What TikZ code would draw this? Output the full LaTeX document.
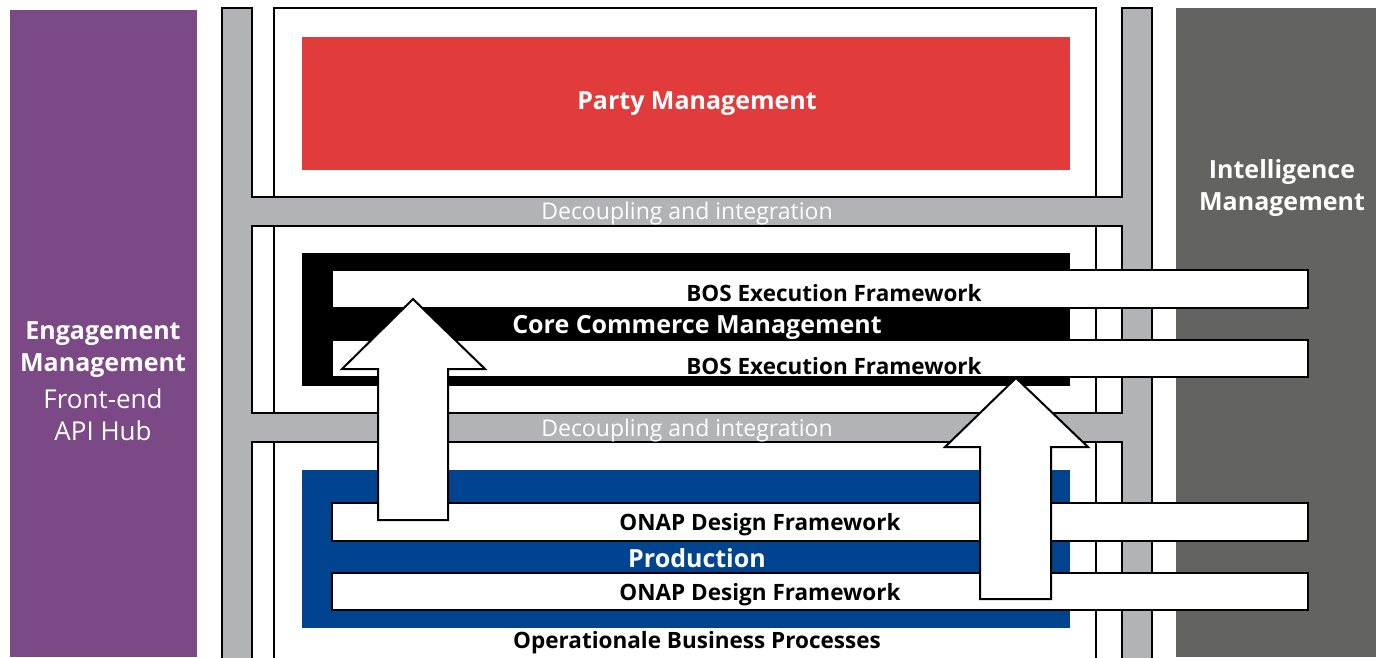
\documentclass[tikz,border=0pt]{standalone}
\usepackage{fontspec}
\setmainfont{Open Sans}
\definecolor{epurple}{RGB}{123,73,133}
\definecolor{ered}{RGB}{226,59,59}
\definecolor{eblue}{RGB}{0,68,143}
\definecolor{edark}{RGB}{99,100,98}
\definecolor{egray}{RGB}{178,179,180}
\tikzset{
  panel/.style={fill=white,draw=black,line width=2pt},
  barbox/.style={fill=white,draw=black,line width=2pt},
  bigarrow/.style={fill=white,draw=black,line width=2pt,line join=miter},
  boldw/.style={text=white,font=\fontsize{25}{28}\selectfont\bfseries,inner sep=0pt},
  boldb/.style={text=black,font=\fontsize{22.5}{26}\selectfont\bfseries,inner sep=0pt},
  light/.style={text=white,font=\fontsize{23}{26}\selectfont,inner sep=0pt},
  sidelight/.style={text=white,font=\fontsize{26}{28}\selectfont,inner sep=0pt},
}
\begin{document}
\begin{tikzpicture}[x=1pt,y=-1pt]
\useasboundingbox (0,0) rectangle (1376,657);
% side panels
\fill[epurple] (10,10) rectangle (197,657);
\fill[edark] (1176,8) rectangle (1376,657);
% gray frame
\path[fill=egray,draw=black,line width=2pt,even odd rule]
  (222,8) -- (252,8) -- (252,197) -- (1122,197) -- (1122,8) -- (1152,8)
  -- (1152,662) -- (1122,662) -- (1122,442) -- (252,442) -- (252,662)
  -- (222,662) -- cycle
  (252,226) -- (1122,226) -- (1122,413) -- (252,413) -- cycle;
% inner panels
\draw[panel] (274,8) rectangle (1096,197);
\draw[panel] (274,226) rectangle (1096,413);
\draw[panel] (274,442) rectangle (1096,662);
% coloured boxes
\fill[ered] (302,37) rectangle (1070,170);
\fill[black] (302,253) rectangle (1070,386);
\fill[eblue] (302,470) rectangle (1070,628);
% bars
\draw[barbox] (332,270) rectangle (1308,308);
\draw[barbox] (332,340) rectangle (1308,377);
\draw[barbox] (332,503) rectangle (1308,541);
\draw[barbox] (332,573) rectangle (1308,610);
% texts
\node[boldw] (party) at (697,104) {Party Management};
\node[light] (dec1) at (687,214) {Decoupling and integration};
\node[light] (dec2) at (687,431) {Decoupling and integration};
\node[boldb] (bos1) at (834,293) {BOS Execution Framework};
\node[boldb] (bos2) at (834,366) {BOS Execution Framework};
\node[boldw] (ccm) at (697,327) {Core Commerce Management};
\node[boldb] (onap1) at (760,525) {ONAP Design Framework};
\node[boldb] (onap2) at (760,595) {ONAP Design Framework};
\node[boldw] (prod) at (697,558) {Production};
\node[boldb] (obp) at (697,643) {Operationale Business Processes};
\node[boldw] (eng1) at (103,334) {Engagement};
\node[boldw] (eng2) at (103,366) {Management};
\node[sidelight] (eng3) at (103,399) {Front-end};
\node[sidelight] (eng4) at (103,431) {API Hub};
\node[boldw] (int1) at (1282,172) {Intelligence};
\node[boldw] (int2) at (1282,205) {Management};
% arrows
\draw[bigarrow] (378,520) -- (378,369) -- (342,369) -- (413,299) -- (485,369) -- (448,369) -- (448,520) -- cycle;
\draw[bigarrow] (980,599) -- (980,447) -- (945,447) -- (1016,378) -- (1088,447) -- (1051,447) -- (1051,599) -- cycle;
\end{tikzpicture}
\end{document}
